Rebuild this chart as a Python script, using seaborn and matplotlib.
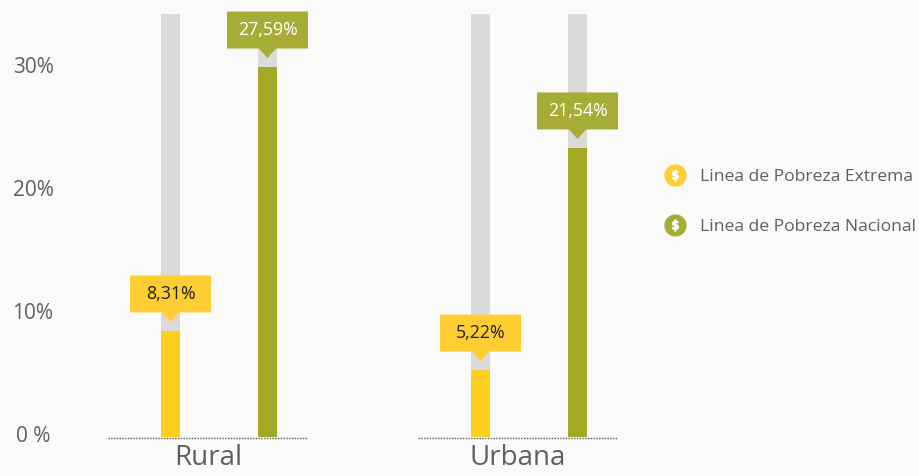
import matplotlib
matplotlib.use("Agg")
import matplotlib.pyplot as plt
import matplotlib.transforms as mtransforms
from matplotlib.lines import Line2D
from matplotlib.legend_handler import HandlerTuple
from matplotlib.patches import Polygon
import pandas as pd
import seaborn as sns

areas = ["Rural", "Urbana"]
series = ["Linea de Pobreza Extrema", "Linea de Pobreza Nacional"]
# alturas leidas contra el eje; las etiquetas del original no coinciden con ellas
extrema = [8.6, 5.43]
nacional = [30.0, 23.44]
extrema_labels = ["8,31%", "5,22%"]
nacional_labels = ["27,59%", "21,54%"]
track_top = [34.3, 34.3]
y_ticks = [0, 10, 20, 30]
y_labels = ["0 %", "10%", "20%", "30%"]

BG = "#FAFAF8"
YELLOW = "#FFCF1F"
OLIVE = "#A3A825"
YELLOW_BOX = "#FFCE33"
OLIVE_BOX = "#A6AC36"
GREY = "#DBDAD8"
TEXT = "#5F5F5D"

sns.set_style("white", {"axes.facecolor": BG, "figure.facecolor": BG})
plt.rcParams["font.family"] = ["Open Sans", "DejaVu Sans"]

W, H = 920, 476
fig = plt.figure(figsize=(W / 100, H / 100), dpi=100)
# eje en pixeles: x 60-640, y 14-437
ax = fig.add_axes([60 / W, (H - 437) / H, 580 / W, 423 / H])

df = pd.DataFrame({
    "area": areas * 2,
    "serie": [series[0]] * 2 + [series[1]] * 2,
    "valor": extrema + nacional,
    "fondo": track_top * 2,
})
bar_args = dict(data=df, x="area", hue="serie", hue_order=series, order=areas,
                width=0.626, gap=0.814, saturation=1, legend=False, linewidth=0, ax=ax)
sns.barplot(y="fondo", palette=[GREY, GREY], **bar_args)
sns.barplot(y="valor", palette=[YELLOW, OLIVE], **bar_args)

ax.set_xlim(-(219 - 60) / 310, (640 - 219) / 310)
ax.set_ylim(0, 34.3)
sns.despine(ax=ax, left=True, bottom=True)
ax.set_xlabel("")
ax.set_ylabel("")

# linea base punteada bajo cada grupo
for i in range(len(areas)):
    ax.plot([i - 111 / 310, i + 89 / 310], [-0.1, -0.1], color="#555555", lw=1,
            ls=(0, (1, 1)), clip_on=False)

ax.set_yticks(y_ticks)
ax.set_yticklabels(y_labels, fontsize=15, color=TEXT)
ax.tick_params(axis="y", length=0, pad=19.4)
for lab in ax.get_yticklabels():
    lab.set_horizontalalignment("center")
    lab.set_transform(lab.get_transform() + mtransforms.Affine2D().translate(0, 2.5))

ax.set_xticks([i - 11 / 310 for i in range(len(areas))])
ax.set_xticklabels(areas, fontsize=20, color=TEXT)
ax.tick_params(axis="x", length=0, pad=5)


def callout(bar, text, box_color, text_color):
    cx = bar.get_x() + bar.get_width() / 2
    top = bar.get_height()
    px, py = ax.transData.transform((cx, top))
    tr = mtransforms.Affine2D().translate(px, py)
    pts = [(-40.5, 18.5), (-8.5, 18.5), (0, 9), (8.5, 18.5), (40.5, 18.5), (40.5, 55.5), (-40.5, 55.5)]
    ax.add_patch(Polygon(pts, closed=True, facecolor=box_color, edgecolor="none",
                         transform=tr, clip_on=False, zorder=5))
    ax.annotate(text, xy=(cx, top), xytext=(0, 37 * 0.72), textcoords="offset points",
                ha="center", va="center", fontsize=12.8, color=text_color,
                annotation_clip=False, zorder=6)


yellow_bars = ax.containers[-2]
olive_bars = ax.containers[-1]
for bar, text in zip(yellow_bars, extrema_labels):
    callout(bar, text, YELLOW_BOX, "#1E1E1E")
for bar, text in zip(olive_bars, nacional_labels):
    callout(bar, text, OLIVE_BOX, "white")

handles = []
for color in (YELLOW_BOX, OLIVE_BOX):
    circle = Line2D([], [], marker="o", ls="", ms=15, color=color)
    sign = Line2D([], [], marker=r"$\$$", ls="", ms=8, color="white")
    handles.append((circle, sign))
fig.legend(handles, series, handler_map={tuple: HandlerTuple(ndivide=1, pad=0)},
           loc="upper left", bbox_to_anchor=(658 / W, 1 - 169 / H), frameon=False,
           fontsize=12.6, labelcolor=TEXT, labelspacing=1.9, handlelength=1.9,
           handletextpad=0.5, borderpad=0, borderaxespad=0)

fig.savefig("out.png", dpi=100, facecolor=BG)
